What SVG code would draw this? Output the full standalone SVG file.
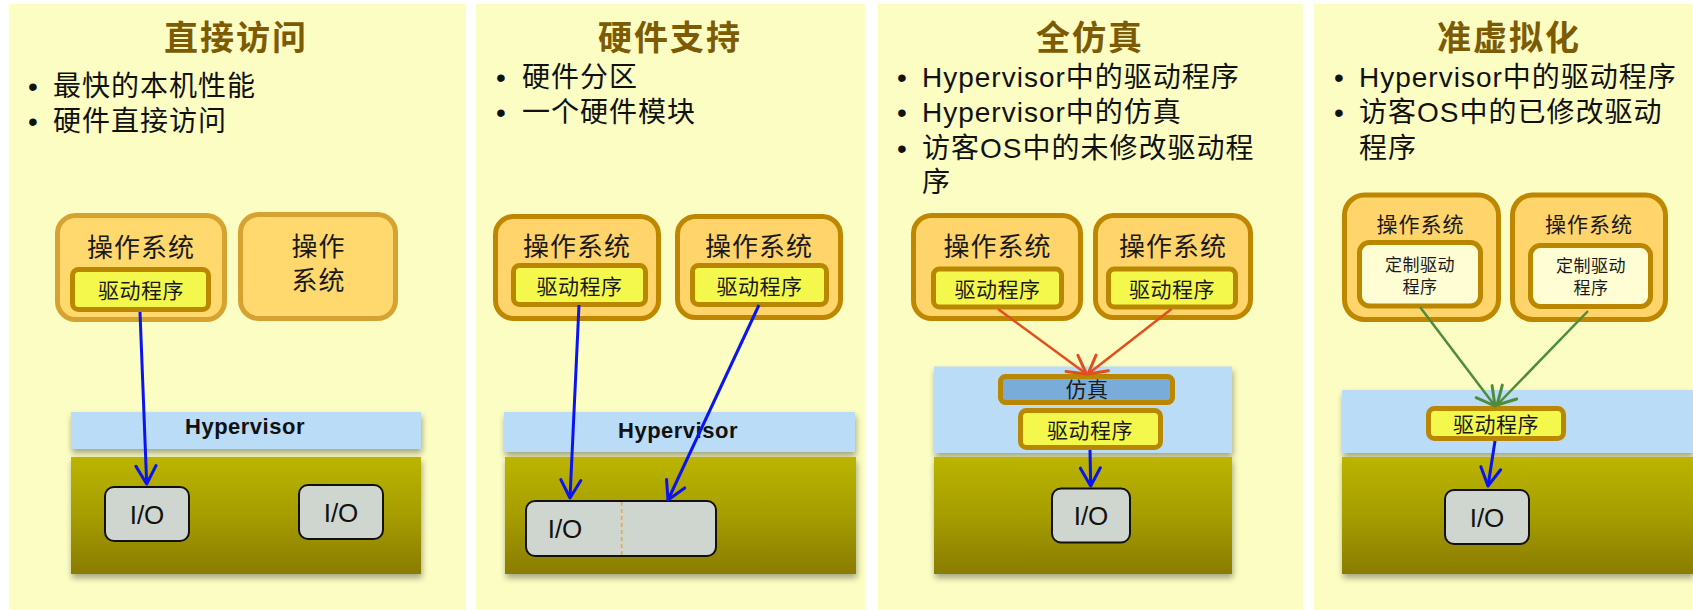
<svg xmlns="http://www.w3.org/2000/svg" width="1693" height="610" viewBox="0 0 1693 610">
  <defs>
    <linearGradient id="olive" x1="0" y1="0" x2="0" y2="1">
      <stop offset="0" stop-color="#bbb500"/>
      <stop offset="0.5" stop-color="#a69d00"/>
      <stop offset="1" stop-color="#8a7c00"/>
    </linearGradient>
    <filter id="shadow" x="-5%" y="-10%" width="110%" height="130%">
      <feDropShadow dx="1" dy="4" stdDeviation="3" flood-color="#000" flood-opacity="0.35"/>
    </filter>
    <marker id="head-blue" markerUnits="userSpaceOnUse" viewBox="0 0 24 24" markerWidth="24" markerHeight="24" refX="20" refY="12" orient="auto">
      <path d="M2,2 L20,12 L2,22" fill="none" stroke="#0a14f0" stroke-width="3" stroke-linecap="round" stroke-linejoin="round"/>
    </marker>
    <marker id="head-red" markerUnits="userSpaceOnUse" viewBox="0 0 24 24" markerWidth="24" markerHeight="24" refX="20" refY="12" orient="auto">
      <path d="M2,2 L20,12 L2,22" fill="none" stroke="#e0501c" stroke-width="3" stroke-linecap="round" stroke-linejoin="round"/>
    </marker>
    <marker id="head-green" markerUnits="userSpaceOnUse" viewBox="0 0 24 24" markerWidth="24" markerHeight="24" refX="20" refY="12" orient="auto">
      <path d="M2,2 L20,12 L2,22" fill="none" stroke="#4e8c3c" stroke-width="3" stroke-linecap="round" stroke-linejoin="round"/>
    </marker>
  </defs>
  <style>
    .panel { fill: #fbfdc2; }
    .title { font-family: "Noto Sans CJK SC", sans-serif; font-weight: 700; font-size: 34px; letter-spacing: 2px; fill: #7c5b04; text-anchor: middle; }
    .bul { font-family: "Liberation Sans", "Noto Sans CJK SC", sans-serif; font-size: 28px; letter-spacing: 1px; fill: #111; }
    .dot { font-family: "Liberation Sans", sans-serif; font-size: 28px; fill: #111; text-anchor: middle; }
    .os { fill: #ffd46a; stroke: #bf8700; stroke-width: 5; }
    .os-soft { fill: #ffd96e; stroke: #d6a332; stroke-width: 5; }
    .drv { fill: #f4f84c; stroke: #b98700; stroke-width: 5; }
    .custom { fill: #fffdd4; stroke: #b98700; stroke-width: 5; }
    .emu { fill: #79acd8; stroke: #b98700; stroke-width: 5; }
    .hv { fill: #badcf7; }
    .hw { fill: url(#olive); }
    .io { fill: #cfd6d0; stroke: #111; stroke-width: 2; }
    .t-os { font-family: "Noto Sans CJK SC", sans-serif; font-size: 26px; letter-spacing: 1px; fill: #1a1a1a; text-anchor: middle; }
    .t-os-s { font-family: "Noto Sans CJK SC", sans-serif; font-size: 21px; letter-spacing: 1px; fill: #1a1a1a; text-anchor: middle; }
    .t-drv { font-family: "Noto Sans CJK SC", sans-serif; font-size: 21px; letter-spacing: 0.5px; fill: #1a1a1a; text-anchor: middle; }
    .t-cus { font-family: "Noto Sans CJK SC", sans-serif; font-size: 17px; letter-spacing: 0.5px; fill: #1a1a1a; text-anchor: middle; }
    .t-hv { font-family: "Liberation Sans", sans-serif; font-weight: 700; font-size: 22px; letter-spacing: 0.5px; fill: #111; text-anchor: middle; }
    .t-io { font-family: "Liberation Sans", sans-serif; font-size: 26px; fill: #111; text-anchor: middle; }
    .c-blue { stroke: #0a14f0; stroke-width: 3; fill: none; marker-end: url(#head-blue); }
    .c-red { stroke: #e0501c; stroke-width: 2.5; fill: none; marker-end: url(#head-red); }
    .c-green { stroke: #4e8c3c; stroke-width: 2.5; fill: none; marker-end: url(#head-green); }
  </style>

  <rect width="1693" height="610" fill="#ffffff"/>

  <!-- Panel 1: direct access -->
  <g id="panel-direct">
    <rect class="panel" x="9" y="4" width="457" height="606"/>
    <text class="title" x="236" y="50">直接访问</text>
    <text class="dot" x="33" y="96">•</text>
    <text class="bul" x="53" y="96">最快的本机性能</text>
    <text class="dot" x="33" y="131">•</text>
    <text class="bul" x="53" y="131">硬件直接访问</text>
  </g>
  <g id="p1-hypervisor">
    <rect class="hv" x="71" y="412" width="350" height="37" filter="url(#shadow)"/>
    <text class="t-hv" x="245" y="434">Hypervisor</text>
  </g>
  <g id="p1-hardware">
    <rect class="hw" x="71" y="457" width="350" height="117" filter="url(#shadow)"/>
  </g>
  <g id="p1-os1">
    <rect class="os-soft" x="57.5" y="215.5" width="167" height="104" rx="18"/>
    <text class="t-os" x="141" y="257">操作系统</text>
  </g>
  <g id="p1-driver1">
    <rect class="drv" x="72.5" y="269.5" width="136" height="40" rx="6"/>
    <text class="t-drv" x="141" y="297.5">驱动程序</text>
  </g>
  <g id="p1-os2">
    <rect class="os-soft" x="240.5" y="214.5" width="155" height="104" rx="18"/>
    <text class="t-os" x="318.5" y="256">操作</text>
    <text class="t-os" x="318.5" y="289.5">系统</text>
  </g>
  <g id="p1-io1">
    <rect class="io" x="105" y="487" width="84" height="54" rx="9"/>
    <text class="t-io" x="147" y="524">I/O</text>
  </g>
  <g id="p1-io2">
    <rect class="io" x="299" y="485" width="84" height="54" rx="9"/>
    <text class="t-io" x="341" y="522">I/O</text>
  </g>

  <!-- Panel 2: hardware support -->
  <g id="panel-hardware">
    <rect class="panel" x="476" y="4" width="389" height="606"/>
    <text class="title" x="670" y="50">硬件支持</text>
    <text class="dot" x="501" y="86.5">•</text>
    <text class="bul" x="522" y="86.5">硬件分区</text>
    <text class="dot" x="501" y="121.5">•</text>
    <text class="bul" x="522" y="121.5">一个硬件模块</text>
  </g>
  <g id="p2-hypervisor">
    <rect class="hv" x="504" y="412" width="351" height="40" filter="url(#shadow)"/>
    <text class="t-hv" x="678" y="438">Hypervisor</text>
  </g>
  <g id="p2-hardware">
    <rect class="hw" x="505" y="457" width="351" height="117" filter="url(#shadow)"/>
  </g>
  <g id="p2-os1">
    <rect class="os" x="495.5" y="216.5" width="163" height="102" rx="18"/>
    <text class="t-os" x="577" y="256">操作系统</text>
  </g>
  <g id="p2-driver1">
    <rect class="drv" x="513.5" y="265.5" width="132" height="39" rx="6"/>
    <text class="t-drv" x="579.5" y="293.5">驱动程序</text>
  </g>
  <g id="p2-os2">
    <rect class="os" x="677.5" y="216.5" width="163" height="101" rx="18"/>
    <text class="t-os" x="759" y="256">操作系统</text>
  </g>
  <g id="p2-driver2">
    <rect class="drv" x="692.5" y="265.5" width="134" height="39" rx="6"/>
    <text class="t-drv" x="759.5" y="293.5">驱动程序</text>
  </g>
  <g id="p2-io">
    <rect class="io" x="526" y="501" width="190" height="55" rx="9"/>
    <line x1="621.7" y1="502" x2="621.7" y2="555" stroke="#f0a830" stroke-width="1.6" stroke-dasharray="4 3"/>
    <text class="t-io" x="565" y="538">I/O</text>
  </g>

  <!-- Panel 3: full emulation -->
  <g id="panel-emulation">
    <rect class="panel" x="878" y="4" width="425" height="606"/>
    <text class="title" x="1090" y="50">全仿真</text>
    <text class="dot" x="902" y="86.5">•</text>
    <text class="bul" x="922" y="86.5">Hypervisor中的驱动程序</text>
    <text class="dot" x="902" y="121.5">•</text>
    <text class="bul" x="922" y="121.5">Hypervisor中的仿真</text>
    <text class="dot" x="902" y="157.5">•</text>
    <text class="bul" x="922" y="157.5">访客OS中的未修改驱动程</text>
    <text class="bul" x="922" y="191.5">序</text>
  </g>
  <g id="p3-hypervisor">
    <rect class="hv" x="934" y="366.5" width="298" height="86.5" filter="url(#shadow)"/>
  </g>
  <g id="p3-hardware">
    <rect class="hw" x="934" y="457" width="298" height="117" filter="url(#shadow)"/>
  </g>
  <g id="p3-os1">
    <rect class="os" x="913.5" y="215.5" width="167" height="103" rx="18"/>
    <text class="t-os" x="997.5" y="256">操作系统</text>
  </g>
  <g id="p3-driver1">
    <rect class="drv" x="933.5" y="269" width="128" height="38" rx="6"/>
    <text class="t-drv" x="997.5" y="296.5">驱动程序</text>
  </g>
  <g id="p3-os2">
    <rect class="os" x="1095.5" y="215.5" width="155" height="102" rx="18"/>
    <text class="t-os" x="1173" y="256">操作系统</text>
  </g>
  <g id="p3-driver2">
    <rect class="drv" x="1108.5" y="269" width="127" height="38" rx="6"/>
    <text class="t-drv" x="1172" y="296.5">驱动程序</text>
  </g>
  <g id="p3-emulation">
    <rect class="emu" x="1000.5" y="376.5" width="172" height="26" rx="5"/>
    <text class="t-drv" x="1087" y="397">仿真</text>
  </g>
  <g id="p3-driver-hv">
    <rect class="drv" x="1020.5" y="410.5" width="140" height="37" rx="6"/>
    <text class="t-drv" x="1090" y="437.5">驱动程序</text>
  </g>
  <g id="p3-io">
    <rect class="io" x="1052" y="488.5" width="78" height="54" rx="9"/>
    <text class="t-io" x="1091" y="524.5">I/O</text>
  </g>

  <!-- Panel 4: paravirtualization -->
  <g id="panel-paravirt">
    <rect class="panel" x="1314" y="4" width="379" height="606"/>
    <text class="title" x="1509" y="50">准虚拟化</text>
    <text class="dot" x="1339" y="86.5">•</text>
    <text class="bul" x="1359" y="86.5">Hypervisor中的驱动程序</text>
    <text class="dot" x="1339" y="122">•</text>
    <text class="bul" x="1359" y="122">访客OS中的已修改驱动</text>
    <text class="bul" x="1359" y="157.5">程序</text>
  </g>
  <g id="p4-hypervisor">
    <rect class="hv" x="1342" y="390" width="351" height="63" filter="url(#shadow)"/>
  </g>
  <g id="p4-hardware">
    <rect class="hw" x="1342" y="457" width="351" height="117" filter="url(#shadow)"/>
  </g>
  <g id="p4-os1">
    <rect class="os" x="1344.5" y="195" width="154" height="124.5" rx="20"/>
    <text class="t-os-s" x="1420.5" y="232">操作系统</text>
  </g>
  <g id="p4-custom1">
    <rect class="custom" x="1359.5" y="242.5" width="121" height="63.5" rx="10"/>
    <text class="t-cus" x="1420" y="271">定制驱动</text>
    <text class="t-cus" x="1420" y="293">程序</text>
  </g>
  <g id="p4-os2">
    <rect class="os" x="1512.5" y="195" width="153" height="124.5" rx="20"/>
    <text class="t-os-s" x="1589" y="232">操作系统</text>
  </g>
  <g id="p4-custom2">
    <rect class="custom" x="1530.5" y="245.5" width="120" height="61" rx="10"/>
    <text class="t-cus" x="1591" y="272">定制驱动</text>
    <text class="t-cus" x="1591" y="294">程序</text>
  </g>
  <g id="p4-driver-hv">
    <rect class="drv" x="1428.5" y="408.5" width="135" height="30" rx="6"/>
    <text class="t-drv" x="1496" y="431.5">驱动程序</text>
  </g>
  <g id="p4-io">
    <rect class="io" x="1445" y="490" width="84" height="54" rx="9"/>
    <text class="t-io" x="1487" y="527">I/O</text>
  </g>

  <!-- Connectors -->
  <g id="connectors">
    <line class="c-blue" x1="140" y1="312" x2="146.7" y2="484"/>
    <line class="c-blue" x1="579" y1="305" x2="570" y2="498"/>
    <line class="c-blue" x1="759" y1="305" x2="668" y2="500"/>
    <line class="c-red" x1="998" y1="309" x2="1086.5" y2="374"/>
    <line class="c-red" x1="1171.5" y1="309" x2="1088" y2="374"/>
    <line class="c-blue" x1="1090" y1="450" x2="1090.7" y2="486"/>
    <line class="c-green" x1="1420" y1="307" x2="1495" y2="406"/>
    <line class="c-green" x1="1588" y1="311" x2="1497" y2="405"/>
    <line class="c-blue" x1="1495" y1="441" x2="1488" y2="486"/>
  </g>
</svg>
